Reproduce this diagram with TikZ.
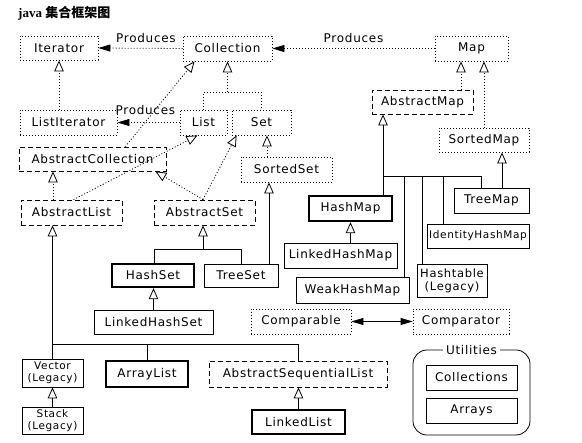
\documentclass[tikz,border=0pt]{standalone}
\usepackage{fontspec}
\setmainfont{DejaVu Sans}[LetterSpace=6]
\newfontfamily\cjk{Noto Sans CJK SC}
\newfontfamily\serifl{Liberation Serif}
\usetikzlibrary{arrows.meta,calc}
\tikzset{
  box/.style={draw, line width=0.8pt, inner sep=0pt, font=\fontsize{12}{13}\selectfont, align=center},
  ibox/.style={box, dash pattern=on 1pt off 2pt},
  abox/.style={box, dash pattern=on 5pt off 3pt},
  cbox/.style={box},
  kbox/.style={box, line width=2.4pt},
  smalltext/.style={font=\fontsize{10.5}{12}\selectfont},
  dotl/.style={line width=0.8pt, dash pattern=on 1pt off 2pt},
  soll/.style={line width=0.8pt},
  tri/.style={-{Triangle[fill=white,length=11pt,width=9.5pt]}},
  prod/.style={-{Triangle[length=12pt,width=7pt]}},
  both/.style={{Triangle[length=12pt,width=7pt]}-{Triangle[length=12pt,width=7pt]}},
  lbl/.style={font=\fontsize{12}{13}\selectfont, inner sep=0pt},
}
\begin{document}
\begin{tikzpicture}[x=1pt,y=-1pt]
\fill[white] (0,0) rectangle (582,443);
\useasboundingbox (0,0) rectangle (582,443);
\node[anchor=west, inner sep=0pt, font=\fontsize{13}{15}\selectfont\bfseries] (title) at (18,13) {\serifl java\ \cjk 集合框架图};
% nodes
\node[ibox, minimum width=78pt, minimum height=24pt] (Iterator) at (59,48) {Iterator};
\node[ibox, minimum width=89pt, minimum height=25pt] (Collection) at (227.5,48.5) {Collection};
\node[ibox, minimum width=73pt, minimum height=25pt] (Map) at (471.5,48.5) {Map};
\node[ibox, minimum width=97pt, minimum height=25pt] (ListIterator) at (68.5,122.5) {ListIterator};
\node[ibox, minimum width=47pt, minimum height=25pt] (List) at (203.5,122.5) {List};
\node[ibox, minimum width=59pt, minimum height=25pt] (Set) at (261.5,122.5) {Set};
\node[abox, minimum width=147pt, minimum height=24pt] (AbstractCollection) at (92.5,159) {AbstractCollection};
\node[abox, minimum width=101pt, minimum height=25pt] (AbstractList) at (71.5,212.5) {AbstractList};
\node[abox, minimum width=101pt, minimum height=25pt] (AbstractSet) at (204.5,212.5) {AbstractSet};
\node[ibox, minimum width=91pt, minimum height=25pt] (SortedSet) at (286.5,169.5) {SortedSet};
\node[abox, minimum width=101pt, minimum height=24pt] (AbstractMap) at (422.5,102) {AbstractMap};
\node[ibox, minimum width=90pt, minimum height=24pt] (SortedMap) at (484,140) {SortedMap};
\node[kbox, minimum width=83pt, minimum height=25pt] (HashMap) at (350.5,208.5) {HashMap};
\node[cbox, minimum width=75pt, minimum height=25pt] (TreeMap) at (491.5,200.5) {TreeMap};
\node[cbox, font=\fontsize{10.5}{12}\selectfont, minimum width=102pt, minimum height=24pt] (IdentityHashMap) at (478,236) {IdentityHashMap};
\node[cbox, minimum width=113pt, minimum height=25pt] (LinkedHashMap) at (340.5,255.5) {LinkedHashMap};
\node[cbox, minimum width=113pt, minimum height=26pt] (WeakHashMap) at (352.5,290) {WeakHashMap};
\node[cbox, minimum width=70pt, minimum height=33pt, font=\fontsize{11.5}{13}\selectfont] (Hashtable) at (452,280.5) {Hashtable\\(Legacy)};
\node[kbox, minimum width=82pt, minimum height=23pt] (HashSet) at (153,275.5) {HashSet};
\node[cbox, minimum width=74pt, minimum height=23pt] (TreeSet) at (241,275.5) {TreeSet};
\node[cbox, minimum width=119pt, minimum height=24pt] (LinkedHashSet) at (153.5,322) {LinkedHashSet};
\node[ibox, minimum width=100pt, minimum height=25pt] (Comparable) at (301,321.5) {Comparable};
\node[ibox, minimum width=96pt, minimum height=25pt] (Comparator) at (461,321.5) {Comparator};
\node[cbox, smalltext, minimum width=61pt, minimum height=28pt] (Vector) at (52.5,373) {Vector\\(Legacy)};
\node[cbox, smalltext, minimum width=61pt, minimum height=27pt] (Stack) at (52.5,420.5) {Stack\\(Legacy)};
\node[kbox, minimum width=82pt, minimum height=26pt] (ArrayList) at (147,374) {ArrayList};
\node[abox, minimum width=178pt, minimum height=26pt] (ASL) at (298,374) {AbstractSequentialList};
\node[kbox, minimum width=93pt, minimum height=24pt] (LinkedList) at (298.5,422) {LinkedList};
\node[draw, line width=0.8pt, rounded corners=14pt, minimum width=117pt, minimum height=85pt] (Utilities) at (471.5,392.5) {};
\node[lbl, fill=white, inner xsep=3pt, inner ysep=1pt] (UtilitiesLabel) at (Utilities.north) {Utilities};
\node[cbox, minimum width=91pt, minimum height=25pt] (Collections) at (471.5,377.5) {Collections};
\node[cbox, minimum width=91pt, minimum height=25pt] (Arrays) at (471.5,410.5) {Arrays};
% Produces
\draw[dotl, prod] (Collection.west) -- node[lbl, above=5pt, pos=0.435] (p1) {Produces} (Iterator.east);
\draw[dotl, prod] (Map.west) -- node[lbl, above=5pt] (p2) {Produces} (Collection.east);
\draw[dotl, prod] (List.west) -- node[lbl, above=7pt, pos=0.55] (p3) {Produces} (ListIterator.east);
% Iterator <- ListIterator
\draw[dotl, tri] (Iterator.south |- ListIterator.north) -- (Iterator.south);
% Collection <- List, Set
\coordinate (cj) at ([yshift=-31pt]Collection.south);
\draw[dotl] (List.north) |- (cj) -| (Set.north);
\draw[dotl, tri] (cj) -- (Collection.south);
% AbstractCollection -> Collection
\draw[dotl, tri] ([xshift=-41pt]AbstractCollection.north east) -- ([xshift=12pt]Collection.south west);
% AbstractList -> AbstractCollection, List
\coordinate (alc) at ([xshift=-18.5pt]AbstractList.north);
\draw[dotl, tri] (alc) -- (alc |- AbstractCollection.south);
\draw[dotl, tri] ([xshift=2pt]AbstractList.north) -- ([xshift=-6pt]List.south);
% AbstractSet -> AbstractCollection, Set
\draw[dotl, tri] ([xshift=-1.5pt]AbstractSet.north) -- ([xshift=-11pt]AbstractCollection.south east);
\draw[dotl, tri] ([xshift=-1.5pt]AbstractSet.north) -- ([xshift=5pt]Set.south west);
% SortedSet -> Set
\coordinate (sss) at ([xshift=5.5pt]Set.south);
\draw[dotl, tri] (sss |- SortedSet.north) -- (sss);
% HashSet, TreeSet -> AbstractSet
\coordinate (asb) at ([xshift=-1.5pt]AbstractSet.south);
\coordinate (asj) at ([yshift=-24pt]asb);
\draw[soll] ([xshift=1pt]HashSet.north) |- (asj) -| (TreeSet.north);
\draw[soll, tri] (asj) -- (asb);
% TreeSet -> SortedSet
\coordinate (tss) at ([xshift=-17.5pt]SortedSet.south);
\draw[soll, tri] (tss |- TreeSet.north) -- (tss);
% LinkedHashSet -> HashSet
\draw[soll, tri] (LinkedHashSet.north) -- (LinkedHashSet.north |- HashSet.south);
% AbstractList subtree
\draw[soll, tri] (Vector.north) -- (Vector.north |- AbstractList.south);
\coordinate (alj) at ([yshift=14pt]Vector.north);
\draw[soll] (alj) -| (ASL.north);
\draw[soll] (ArrayList.north) -- (ArrayList.north |- alj);
\draw[soll, tri] (Stack.north) -- (Vector.south);
\draw[soll, tri] (LinkedList.north) -- (LinkedList.north |- ASL.south);
% Map side
\coordinate (amm) at ([xshift=-10.5pt]Map.south);
\draw[dotl, tri] (amm |- AbstractMap.north) -- (amm);
\draw[dotl, tri] (SortedMap.north) -- (SortedMap.north |- Map.south);
\coordinate (amb) at ([xshift=-39.5pt]AbstractMap.south);
\draw[soll, tri] (amb |- HashMap.north) -- (amb);
\coordinate (amj) at ([yshift=-62pt]amb);
\draw[soll] (amj) -| ([xshift=-10.5pt]TreeMap.north);
\coordinate (wk) at ([xshift=51.5pt]WeakHashMap.north);
\draw[soll] (wk) -- (wk |- amj);
\coordinate (ht) at ([xshift=-30pt]Hashtable.north);
\draw[soll] (ht) -- (ht |- amj);
\coordinate (ih) at ([xshift=-35pt]IdentityHashMap.north);
\draw[soll] (ih) -- (ih |- amj);
\draw[soll, tri] (HashMap.south |- LinkedHashMap.north) -- (HashMap.south);
\coordinate (tms) at ([xshift=10.5pt]TreeMap.north);
\draw[soll, tri] (tms) -- (tms |- SortedMap.south);
% Comparable <-> Comparator
\draw[soll, both] (Comparable.east) -- (Comparator.west);
\end{tikzpicture}
\end{document}
